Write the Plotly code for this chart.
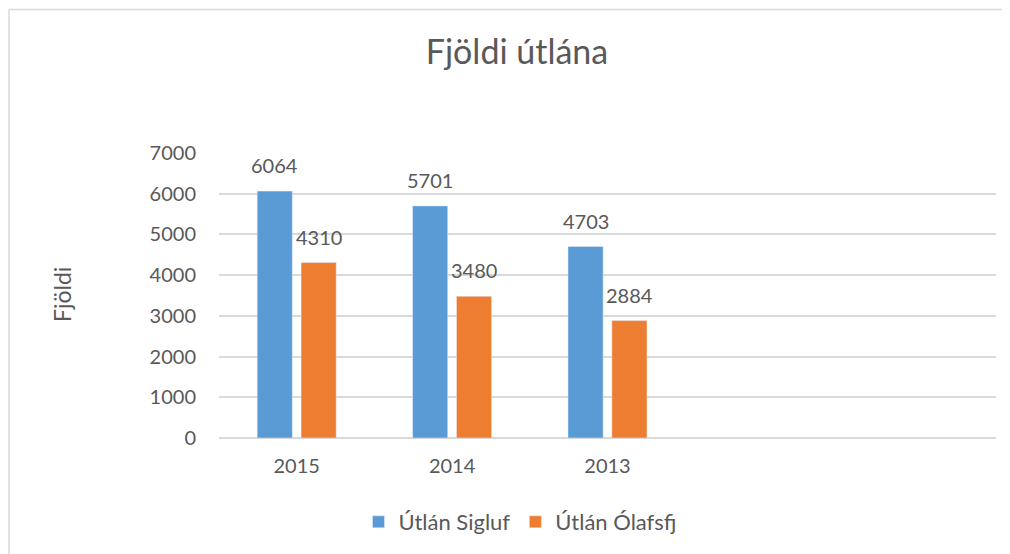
import plotly.graph_objects as go

categories = ["2015", "2014", "2013", " ", "  "]
sigluf = [6064, 5701, 4703, None, None]
olafsfj = [4310, 3480, 2884, None, None]
series_names = ["Útlán Sigluf", "Útlán Ólafsfj"]
title_text = "Fjöldi útlána"
y_title = "Fjöldi"
y_ticks = [0, 1000, 2000, 3000, 4000, 5000, 6000, 7000]

BLUE = "#5b9bd5"
ORANGE = "#ed7d31"
TXT = "#595959"
GRID = "#d9d9d9"
FONT = "Lato"

OFF = 8  # page body margin
W, H = 1010 - OFF, 554 - OFF
L = 219 - OFF
T = 153 - OFF
B = H - (438 - OFF)
R = W - (996 - OFF)
pw = W - L - R
ph = H - T - B

fig = go.Figure()
fig.add_trace(go.Bar(x=categories, y=sigluf, name=series_names[0], marker_color=BLUE))
fig.add_trace(go.Bar(x=categories, y=olafsfj, name=series_names[1], marker_color=ORANGE))

for vals, shift in ((sigluf, -22), (olafsfj, 22)):
    for i, v in enumerate(vals):
        if v is None:
            continue
        fig.add_annotation(x=i, y=v, xref="x", yref="y", text=str(v), showarrow=False,
                           xshift=shift, yshift=26, yanchor="middle",
                           font=dict(family=FONT, size=20, color=TXT))

def px_x(p):
    return (p - OFF - L) / pw

def px_y(p):
    return (H - B - (p - OFF)) / ph

fig.add_annotation(x=px_x(62), y=px_y(295), xref="paper", yref="paper", text=y_title,
                   textangle=-90, showarrow=False, xanchor="center", yanchor="middle",
                   font=dict(family=FONT, size=23, color=TXT))

# chart border (top and left)
fig.add_shape(type="line", xref="paper", yref="paper", x0=px_x(9), x1=px_x(1020),
              y0=px_y(9.5), y1=px_y(9.5), line=dict(color=GRID, width=1.5))
fig.add_shape(type="line", xref="paper", yref="paper", x0=px_x(9), x1=px_x(9),
              y0=px_y(9.5), y1=px_y(570), line=dict(color=GRID, width=1.5))

fig.update_layout(
    width=W, height=H,
    margin=dict(l=L, r=R, t=T, b=B, autoexpand=False),
    paper_bgcolor="white", plot_bgcolor="white",
    font=dict(family=FONT, size=20, color=TXT),
    title=dict(text=title_text, xref="paper", x=px_x(517), xanchor="center",
               y=1 - (52 - OFF) / H, yanchor="middle",
               font=dict(family=FONT, size=34, color=TXT)),
    barmode="group", bargap=0.435, bargroupgap=0.2,
    showlegend=True,
    legend=dict(orientation="h", x=px_x(520), xanchor="center", y=px_y(522), yanchor="middle",
                font=dict(family=FONT, size=22, color=TXT), itemwidth=30, traceorder="normal"),
    xaxis=dict(type="category", range=[-0.5, 4.5], showgrid=False, showline=False,
               ticks="outside", ticklen=10, tickcolor="rgba(0,0,0,0)",
               tickfont=dict(family=FONT, size=20, color=TXT)),
    yaxis=dict(range=[0, 7000], tickvals=y_ticks, showgrid=True, gridcolor=GRID, gridwidth=1.5,
               zeroline=True, zerolinecolor=GRID, zerolinewidth=1.5, showline=False,
               ticklabelstandoff=22, tickfont=dict(family=FONT, size=20, color=TXT)),
)

fig.write_html("out.html")
